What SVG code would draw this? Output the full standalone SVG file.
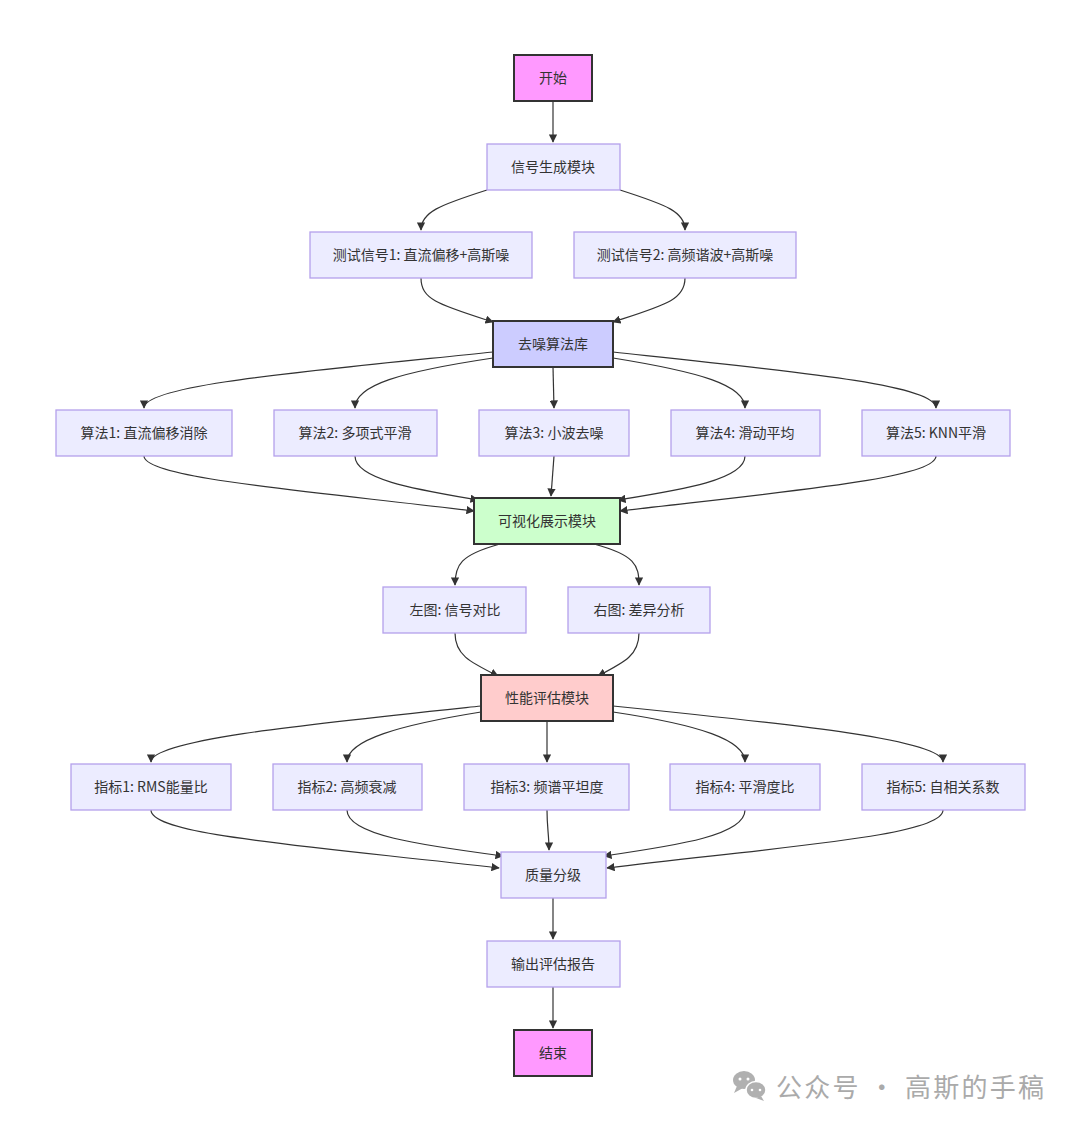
<svg xmlns="http://www.w3.org/2000/svg" width="1080" height="1131" viewBox="0 0 1080 1131">
<defs>
<marker id="ah" viewBox="0 0 10 10" refX="9" refY="5" markerWidth="7" markerHeight="7" orient="auto"><path d="M0,0 L10,5 L0,10 z" fill="#333"/></marker>
<style>
.n{fill:#ececff;stroke:#b4a0ec;stroke-width:1.3}
.k{stroke:#333;stroke-width:2}
.t{font-family:"Noto Sans CJK SC","Noto Sans",sans-serif;font-size:14px;fill:#333;text-anchor:middle;dominant-baseline:central}
.e{fill:none;stroke:#333;stroke-width:1.2;marker-end:url(#ah)}
</style>
</defs>
<rect width="1080" height="1131" fill="#fff"/>
<g id="edges">
<path class="e" d="M553,101 L553,142"/>
<path class="e" d="M487,190 C440,205 421,212 421,230"/>
<path class="e" d="M620,190 C667,205 685,212 685,230"/>
<path class="e" d="M421,278 C421,300 440,305 493,322"/>
<path class="e" d="M685,278 C685,300 665,305 613,322"/>
<path class="e" d="M493,352 C300,372 144,385 144,408"/>
<path class="e" d="M493,358 C400,372 355,385 355,408"/>
<path class="e" d="M553,367 L554,408"/>
<path class="e" d="M613,358 C700,372 745,385 745,408"/>
<path class="e" d="M613,352 C800,372 936,385 936,408"/>
<path class="e" d="M144,456 C144,478 300,490 474,511"/>
<path class="e" d="M355,456 C355,480 420,490 478,500"/>
<path class="e" d="M554,456 L551,496"/>
<path class="e" d="M745,456 C745,480 680,490 618,500"/>
<path class="e" d="M936,456 C936,478 800,490 620,511"/>
<path class="e" d="M500,544 C460,555 455,565 455,585"/>
<path class="e" d="M594,544 C635,555 639,565 639,585"/>
<path class="e" d="M455,633 C455,655 470,662 498,676"/>
<path class="e" d="M639,633 C639,655 625,662 598,676"/>
<path class="e" d="M481,706 C300,725 151,740 151,762"/>
<path class="e" d="M481,712 C400,725 347,740 347,762"/>
<path class="e" d="M547,721 L547,762"/>
<path class="e" d="M613,712 C700,725 745,740 745,762"/>
<path class="e" d="M613,706 C800,725 943,740 943,762"/>
<path class="e" d="M151,810 C151,835 300,845 499,868"/>
<path class="e" d="M347,810 C347,835 420,845 503,856"/>
<path class="e" d="M547,810 C547,828 549,835 549,850"/>
<path class="e" d="M745,810 C745,835 680,845 604,856"/>
<path class="e" d="M943,810 C943,835 800,845 607,868"/>
<path class="e" d="M553,898 L553,939"/>
<path class="e" d="M553,987 L553,1028"/>
</g>
<g id="start"><rect class="k" x="514" y="55" width="78" height="46" fill="#ff99ff"/><text class="t" x="553" y="77">开始</text></g>
<g id="gen"><rect class="n" x="487" y="144" width="133" height="46"/><text class="t" x="553" y="166">信号生成模块</text></g>
<g id="s1"><rect class="n" x="310" y="232" width="222" height="46"/><text class="t" x="421" y="254">测试信号1: 直流偏移+高斯噪</text></g>
<g id="s2"><rect class="n" x="574" y="232" width="222" height="46"/><text class="t" x="685" y="254">测试信号2: 高频谐波+高斯噪</text></g>
<g id="lib"><rect class="k" x="493" y="321" width="120" height="46" fill="#ccccff"/><text class="t" x="553" y="343">去噪算法库</text></g>
<g id="a1"><rect class="n" x="56" y="410" width="176" height="46"/><text class="t" x="144" y="432">算法1: 直流偏移消除</text></g>
<g id="a2"><rect class="n" x="274" y="410" width="163" height="46"/><text class="t" x="355" y="432">算法2: 多项式平滑</text></g>
<g id="a3"><rect class="n" x="479" y="410" width="150" height="46"/><text class="t" x="554" y="432">算法3: 小波去噪</text></g>
<g id="a4"><rect class="n" x="671" y="410" width="149" height="46"/><text class="t" x="745" y="432">算法4: 滑动平均</text></g>
<g id="a5"><rect class="n" x="862" y="410" width="148" height="46"/><text class="t" x="936" y="432">算法5: KNN平滑</text></g>
<g id="vis"><rect class="k" x="474" y="498" width="146" height="46" fill="#ccffcc"/><text class="t" x="547" y="520">可视化展示模块</text></g>
<g id="left"><rect class="n" x="383" y="587" width="143" height="46"/><text class="t" x="455" y="609">左图: 信号对比</text></g>
<g id="right"><rect class="n" x="568" y="587" width="142" height="46"/><text class="t" x="639" y="609">右图: 差异分析</text></g>
<g id="eval"><rect class="k" x="481" y="675" width="132" height="46" fill="#ffcccc"/><text class="t" x="547" y="697">性能评估模块</text></g>
<g id="m1"><rect class="n" x="71" y="764" width="160" height="46"/><text class="t" x="151" y="786">指标1: RMS能量比</text></g>
<g id="m2"><rect class="n" x="273" y="764" width="149" height="46"/><text class="t" x="347" y="786">指标2: 高频衰减</text></g>
<g id="m3"><rect class="n" x="464" y="764" width="165" height="46"/><text class="t" x="547" y="786">指标3: 频谱平坦度</text></g>
<g id="m4"><rect class="n" x="670" y="764" width="150" height="46"/><text class="t" x="745" y="786">指标4: 平滑度比</text></g>
<g id="m5"><rect class="n" x="862" y="764" width="163" height="46"/><text class="t" x="943" y="786">指标5: 自相关系数</text></g>
<g id="grade"><rect class="n" x="501" y="852" width="105" height="46"/><text class="t" x="553" y="874">质量分级</text></g>
<g id="report"><rect class="n" x="487" y="941" width="133" height="46"/><text class="t" x="553" y="963">输出评估报告</text></g>
<g id="end"><rect class="k" x="514" y="1030" width="78" height="46" fill="#ff99ff"/><text class="t" x="553" y="1052">结束</text></g>
<g id="watermark" fill="#b0b0b0">
<ellipse cx="744" cy="1080" rx="11" ry="9"/>
<path d="M737,1086 L734,1093 L743,1088 z"/>
<ellipse cx="756" cy="1090" rx="10" ry="8.5" stroke="#fff" stroke-width="1.5"/>
<path d="M761,1096 L764,1101 L756,1098 z"/>
<circle cx="740" cy="1079" r="1.5" fill="#fff"/><circle cx="748" cy="1079" r="1.5" fill="#fff"/>
<circle cx="752" cy="1090" r="1.3" fill="#fff"/><circle cx="760" cy="1090" r="1.3" fill="#fff"/>
<text x="776" y="1097" font-family="Noto Sans CJK SC,sans-serif" font-size="26" fill="#aaa" textLength="268" lengthAdjust="spacing">公众号 · 高斯的手稿</text>
</g>
</svg>
